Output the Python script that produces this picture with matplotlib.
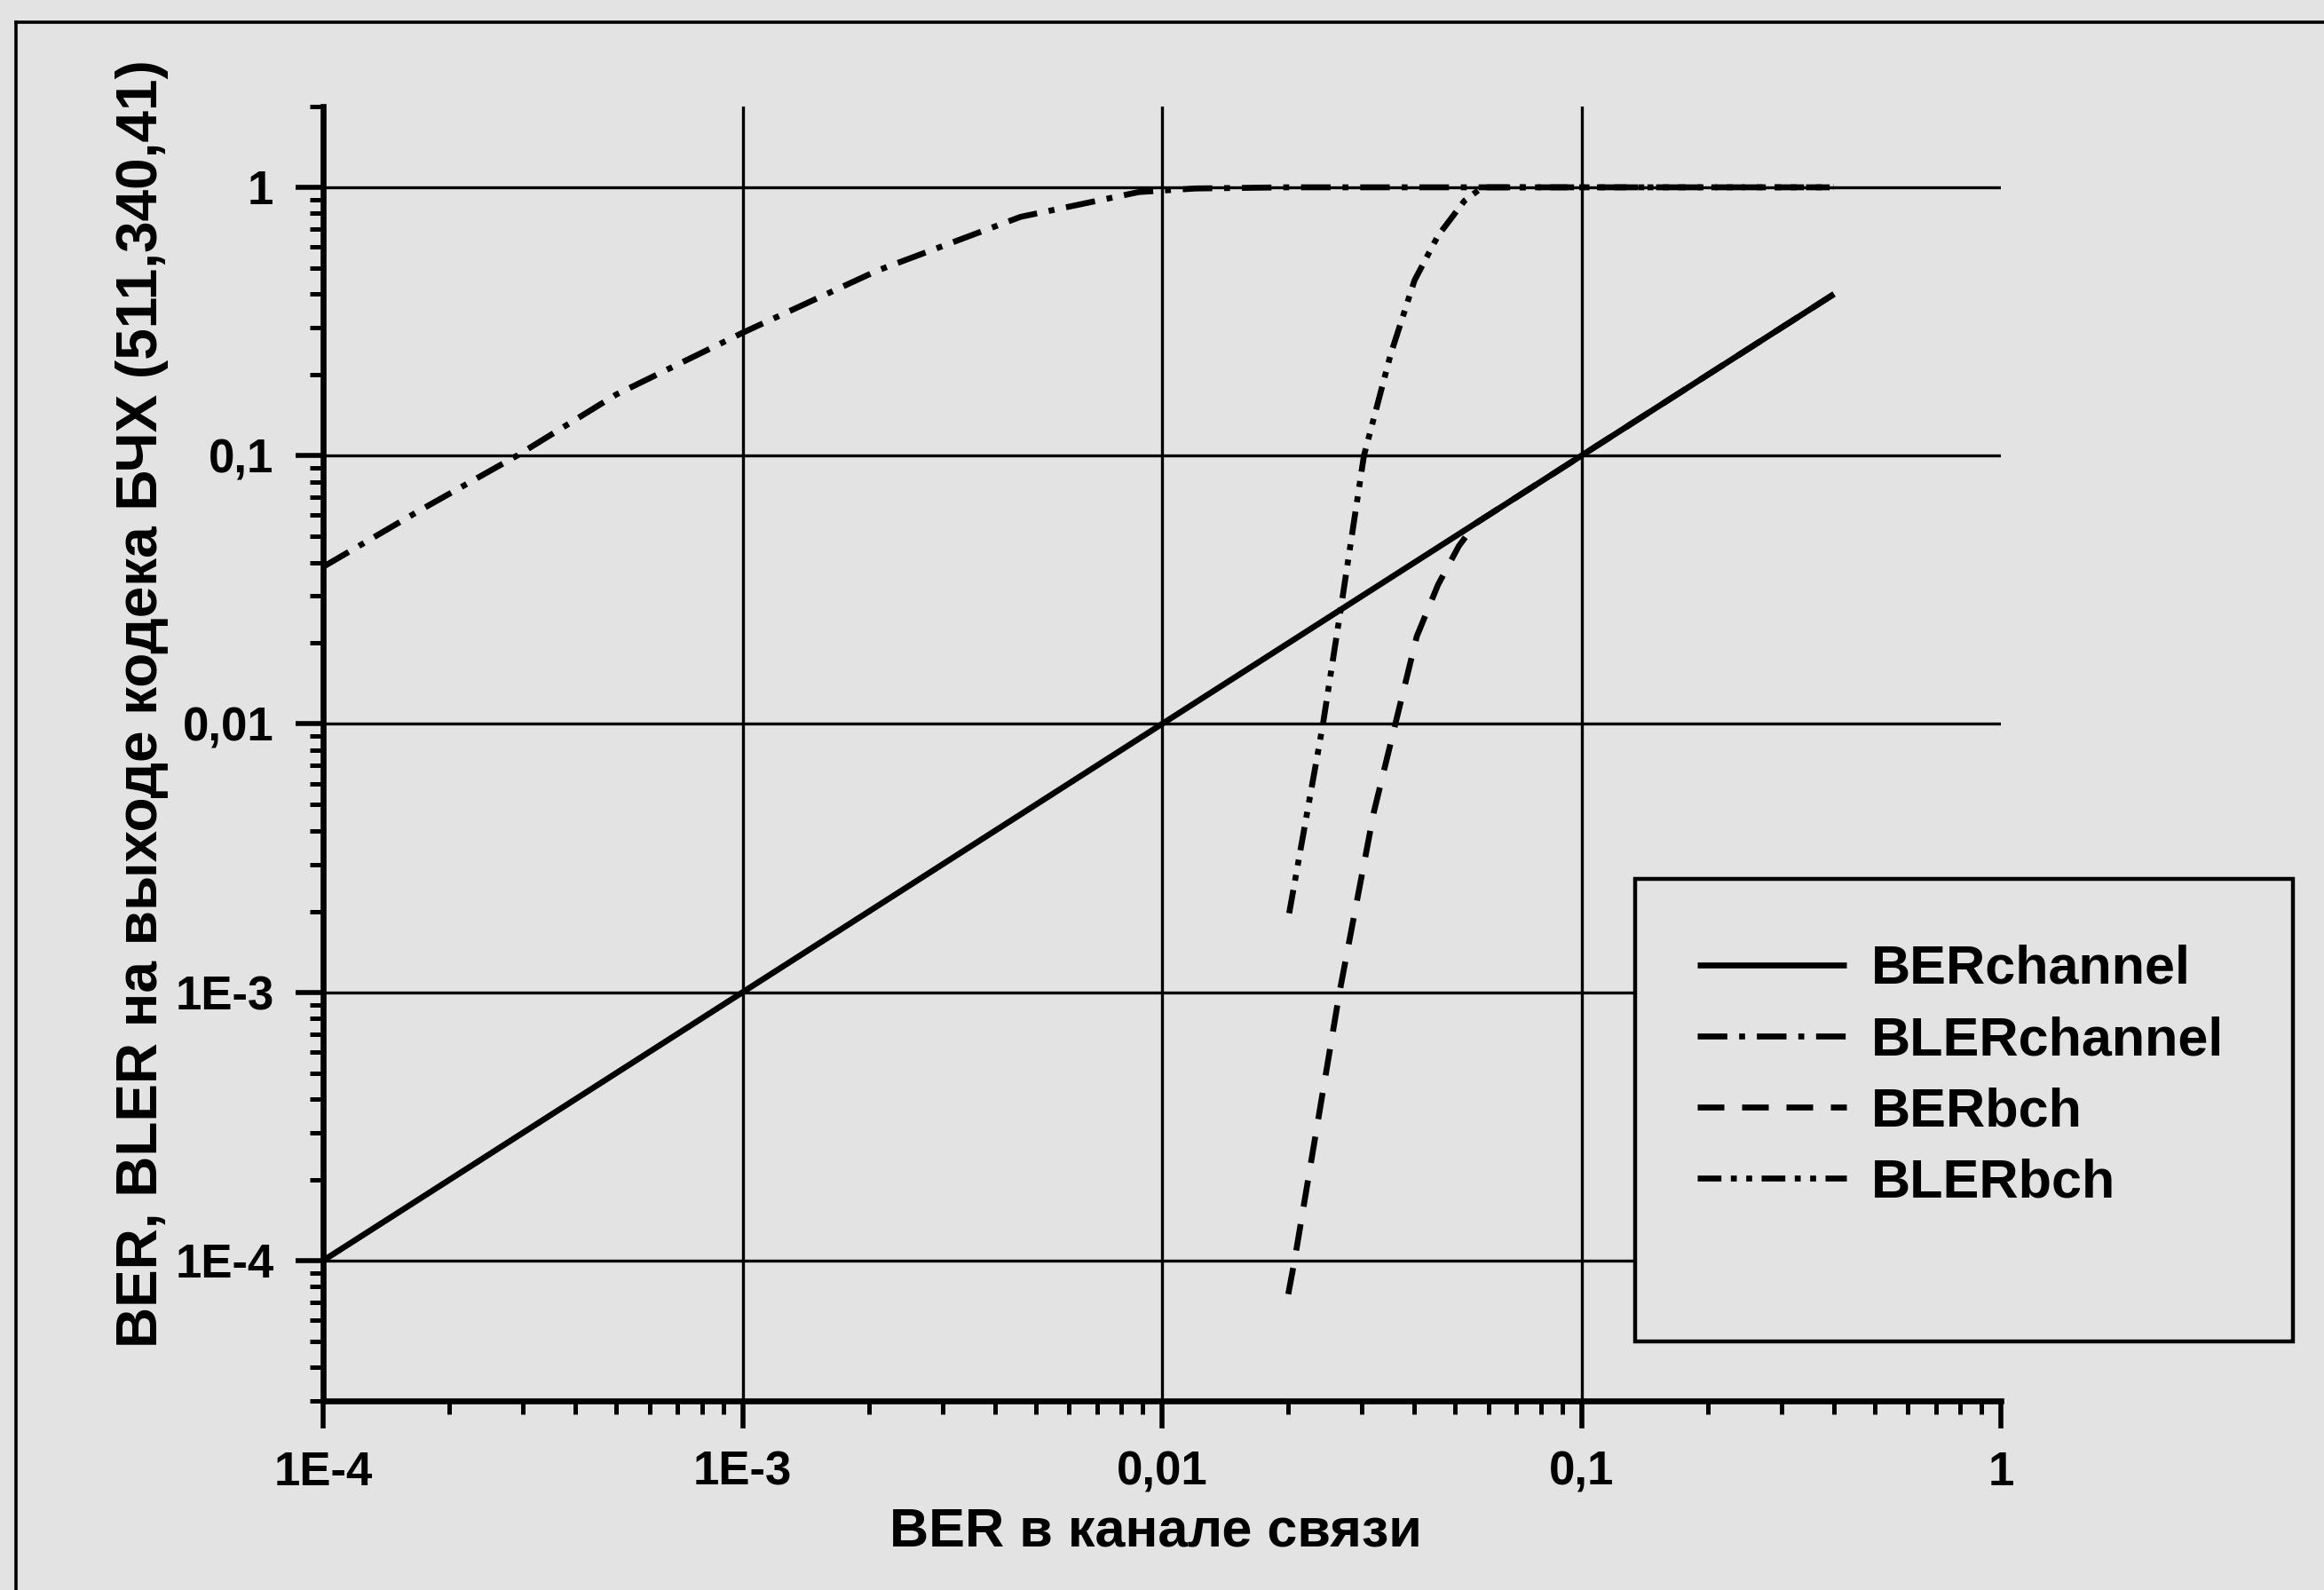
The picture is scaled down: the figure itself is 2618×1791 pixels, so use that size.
import matplotlib
matplotlib.use("Agg")
import matplotlib.pyplot as plt
from matplotlib.lines import Line2D
from matplotlib.patches import Rectangle
from matplotlib.ticker import FixedLocator, FixedFormatter, LogLocator, NullFormatter

plt.rcParams['font.family'] = ['Liberation Sans', 'DejaVu Sans']
plt.rcParams['font.weight'] = 'bold'

# ---- data ----
ber_channel_x = [1e-4, 1e-3, 1e-2, 1e-1, 0.4]
ber_channel_y = [1e-4, 1e-3, 1e-2, 1e-1, 0.4]

bler_channel_x = [1e-4, 1.7e-4, 2.9e-4, 5e-4, 1e-3, 2.1e-3, 4.6e-3, 8.8e-3, 0.012, 0.02, 0.05, 0.1, 0.2, 0.4]
bler_channel_y = [0.0385, 0.0625, 0.1, 0.169, 0.287, 0.49, 0.776, 0.96, 0.99, 1.0, 1.0, 1.0, 1.0, 1.0]

ber_bch_x = [0.0200, 0.0207, 0.0265, 0.032, 0.036, 0.0405, 0.0455, 0.051, 0.056, 0.1, 0.2, 0.4]
ber_bch_y = [7.5e-5, 1e-4, 1e-3, 4.7e-3, 0.01, 0.0212, 0.033, 0.046, 0.056, 0.1, 0.2, 0.4]

bler_bch_x = [0.0201, 0.0242, 0.0267, 0.0303, 0.0351, 0.040, 0.0455, 0.0526, 0.058, 0.1, 0.2, 0.4]
bler_bch_y = [0.00197, 0.01, 0.027, 0.1, 0.239, 0.45, 0.66, 0.89, 1.0, 1.0, 1.0, 1.0]

series_labels = ["BERchannel", "BLERchannel", "BERbch", "BLERbch"]

x_ticks = [1e-4, 1e-3, 1e-2, 1e-1, 1]
x_tick_labels = ["1E-4", "1E-3", "0,01", "0,1", "1"]
y_ticks = [1e-4, 1e-3, 1e-2, 1e-1, 1]
y_tick_labels = ["1E-4", "1E-3", "0,01", "0,1", "1"]

x_label = "BER в канале связи"
y_label = "BER, BLER на выходе кодека БЧХ (511,340,41)"

# ---- figure ----
W, H = 2618, 1791
BG = '#e3e3e3'
fig = plt.figure(figsize=(W / 200, H / 200), dpi=200, facecolor=BG)

ax = fig.add_axes([364 / W, 1 - 1578 / H, 1890 / W, 1458 / H])
ax.set_facecolor('none')
ax.set_xscale('log')
ax.set_yscale('log')
ax.set_xlim(1e-4, 1)
ax.set_ylim(3e-5, 2)

lw = 2.4
l1, = ax.plot(ber_channel_x, ber_channel_y, color='black', lw=lw, solid_capstyle='butt', zorder=5)
l2, = ax.plot(bler_channel_x, bler_channel_y, color='black', lw=lw, zorder=5)
l2.set_dashes([5.0, 2.0, 1.0, 2.0])
l3, = ax.plot(ber_bch_x, ber_bch_y, color='black', lw=lw, zorder=5)
l3.set_dashes([4.5, 3.0])
l4, = ax.plot(bler_bch_x, bler_bch_y, color='black', lw=lw, zorder=5)
l4.set_dashes([4.0, 1.6, 1.0, 1.6, 1.0, 1.6])

# axes styling
for s in ['top', 'right']:
    ax.spines[s].set_visible(False)
for s in ['left', 'bottom']:
    ax.spines[s].set_linewidth(2.4)

ax.xaxis.set_major_locator(FixedLocator(x_ticks))
ax.xaxis.set_major_formatter(FixedFormatter(x_tick_labels))
ax.yaxis.set_major_locator(FixedLocator(y_ticks))
ax.yaxis.set_major_formatter(FixedFormatter(y_tick_labels))
ax.xaxis.set_minor_locator(LogLocator(base=10, subs=range(2, 10), numticks=50))
ax.yaxis.set_minor_locator(LogLocator(base=10, subs=range(2, 10), numticks=50))
ax.xaxis.set_minor_formatter(NullFormatter())
ax.yaxis.set_minor_formatter(NullFormatter())

ax.tick_params(which='major', direction='out', length=11, width=2.0, labelsize=19, pad=9, color='black')
ax.tick_params(which='minor', direction='out', length=5.5, width=1.8, color='black')

ax.grid(True, which='major', color='black', lw=1.2, zorder=1)
ax.set_axisbelow(True)
# no vertical grid line at the right end (x = 1)
ax.get_xgridlines()[-1].set_visible(False)

ax.set_xlabel(x_label, fontsize=22, fontweight='bold')
ax.set_ylabel(y_label, fontsize=23, fontweight='bold')
ax.xaxis.set_label_coords((1302 - 364) / 1890, (1578 - 1698) / 1458)
ax.yaxis.set_label_coords((190 - 364) / 1890, 1 - (793 - 120) / 1458)

# outer frame (cropped at right and bottom)
fig.add_artist(Line2D([18 / W, 1.0], [1 - 25 / H, 1 - 25 / H], transform=fig.transFigure, color='black', lw=1.3))
fig.add_artist(Line2D([18 / W, 18 / W], [1 - 25 / H, 0.0], transform=fig.transFigure, color='black', lw=1.3))

# legend box
box = Rectangle((1842 / W, 1 - 1511 / H), 741 / W, 521 / H, transform=fig.transFigure,
                facecolor=BG, edgecolor='black', lw=1.6, zorder=10, clip_on=False)
ax.add_artist(box)
leg = ax.legend([l1, l2, l3, l4], series_labels, loc='upper left',
                bbox_to_anchor=(1912 / W, 1 - 1064 / H), bbox_transform=fig.transFigure,
                frameon=False, fontsize=22, handlelength=2.75, handletextpad=0.45,
                labelspacing=0.38, borderpad=0, borderaxespad=0)
leg.set_zorder(11)
for t in leg.get_texts():
    t.set_fontweight('bold')

fig.savefig('out.png', dpi=200, facecolor=fig.get_facecolor())
